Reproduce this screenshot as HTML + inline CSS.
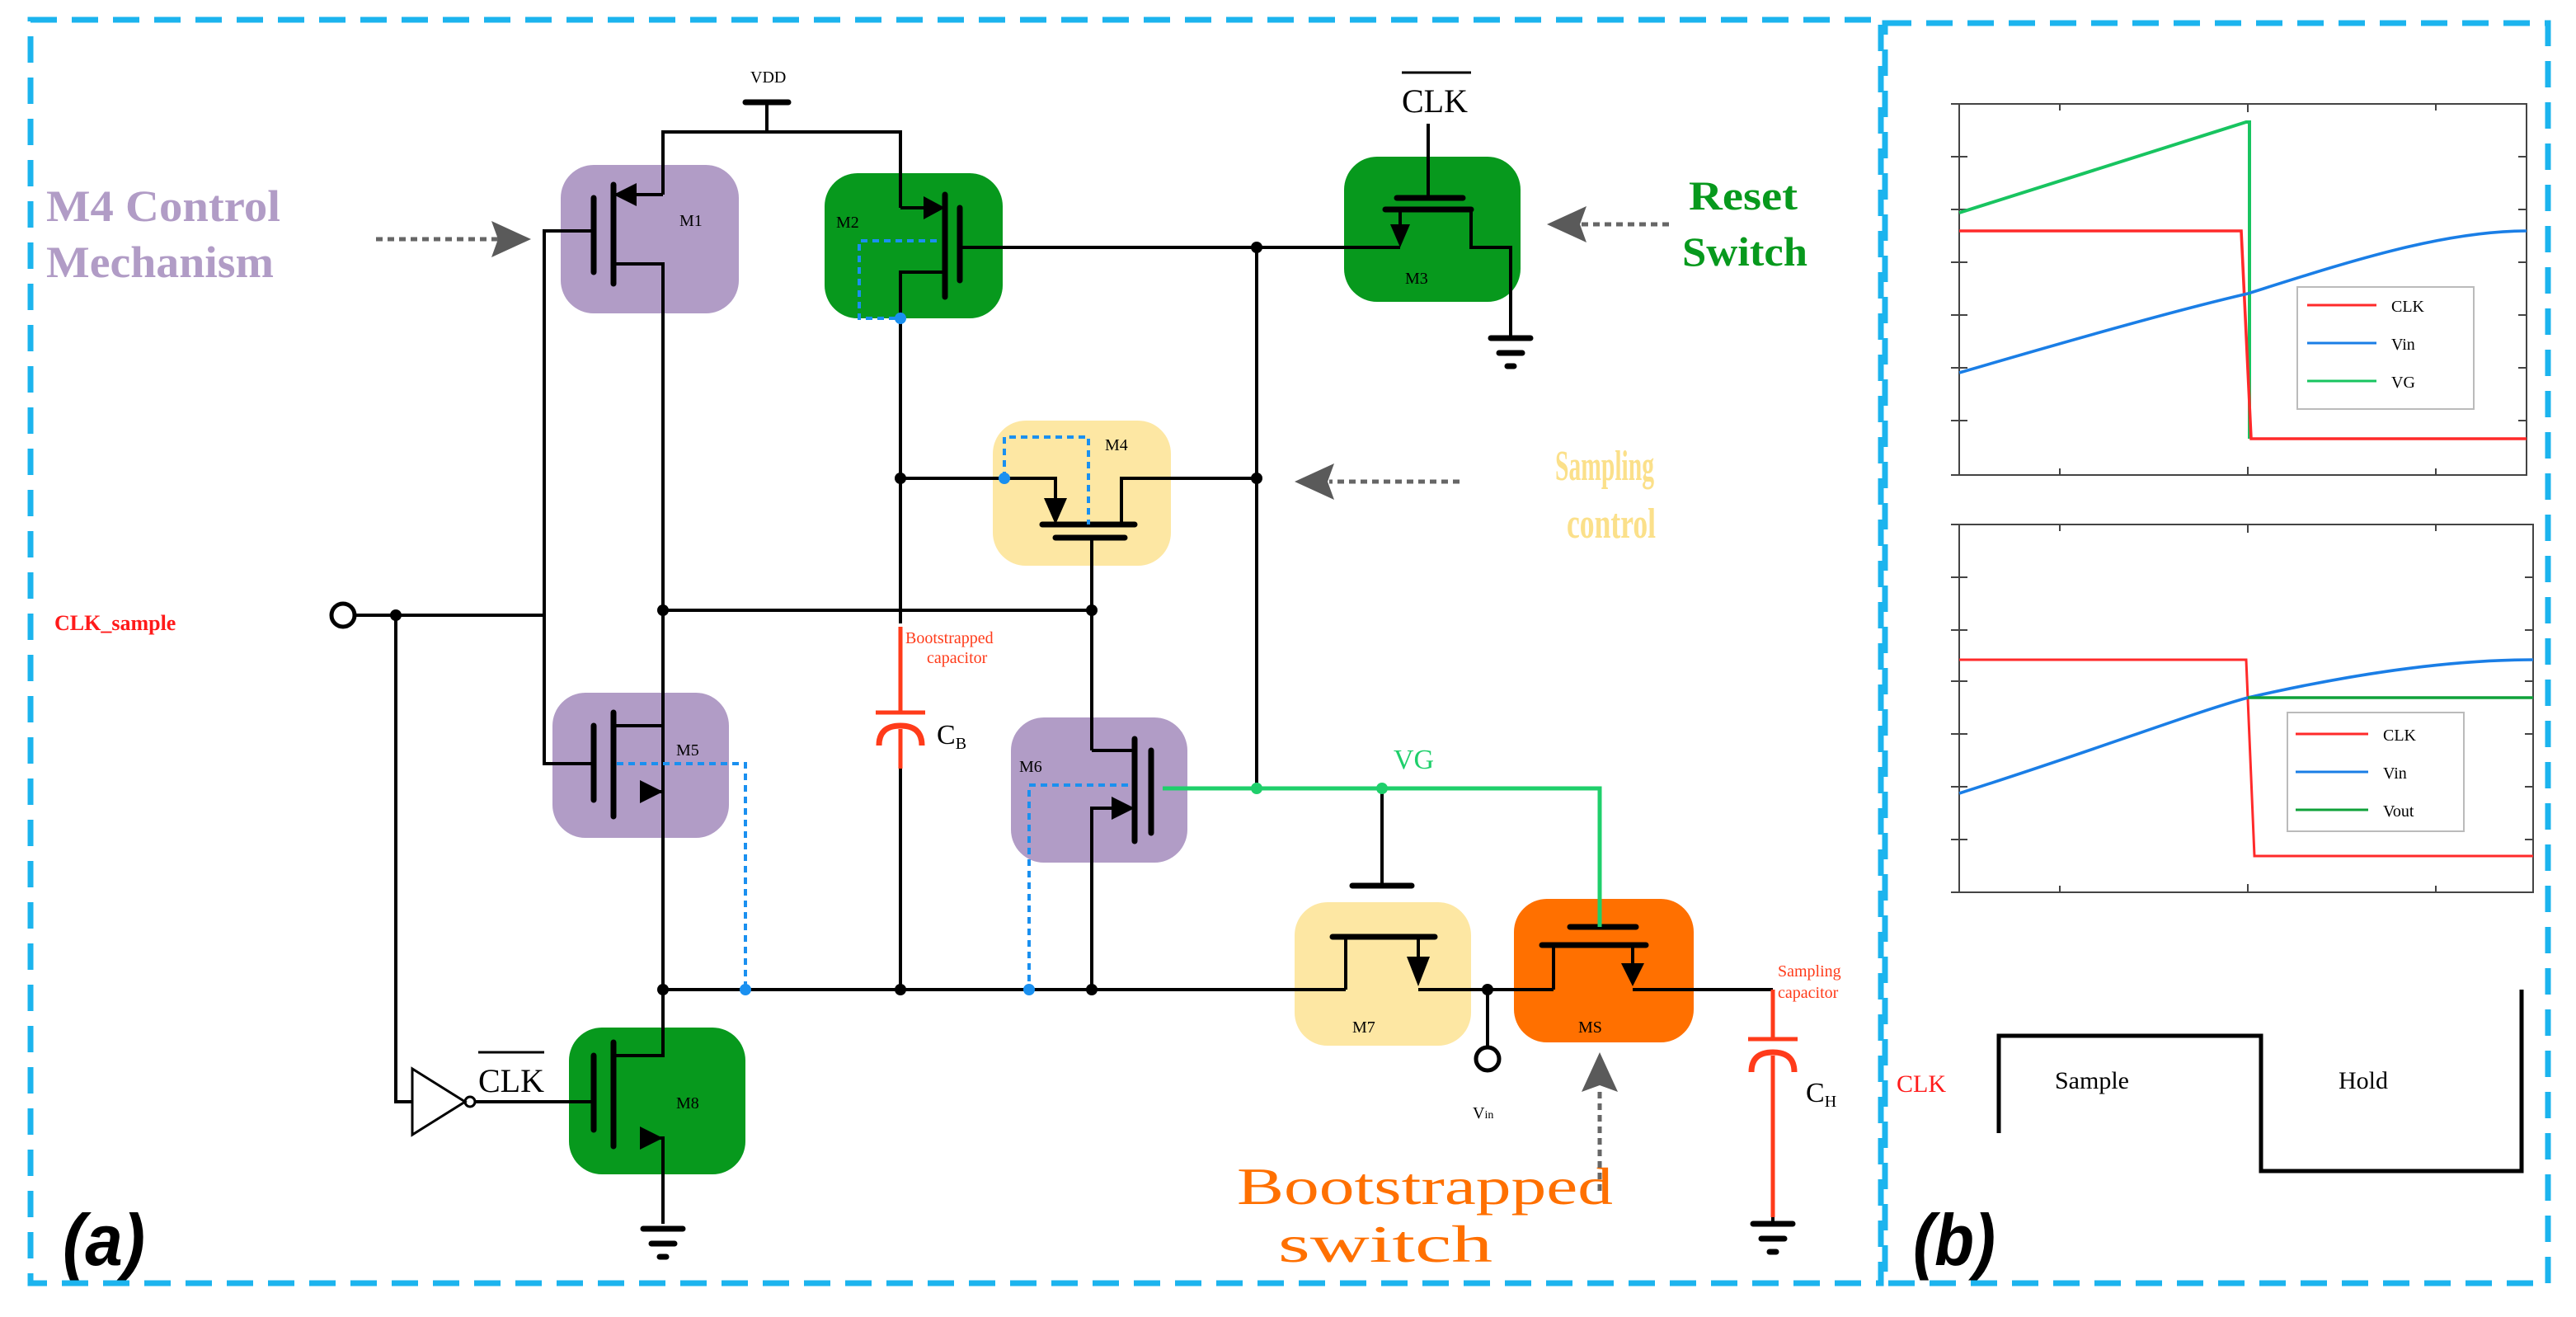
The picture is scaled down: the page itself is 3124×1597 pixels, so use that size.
<!DOCTYPE html>
<html><head><meta charset="utf-8"><style>html,body{margin:0;padding:0;background:#fff}svg{display:block}</style></head>
<body>
<svg width="3124" height="1597" viewBox="0 0 1562 798.5" xmlns="http://www.w3.org/2000/svg" font-family="Liberation Serif, serif">
<rect width="1562" height="798.5" fill="#fff"/>
<g fill="none" stroke="#1cb4ee" stroke-width="3.5" stroke-dasharray="16,9">
<rect x="18.5" y="12" width="1122" height="766"/>
<rect x="1143" y="14" width="402" height="764"/>
</g>
<g>
<rect x="340" y="100" width="108" height="90" rx="20" fill="#b19cc6"/>
<rect x="500" y="105" width="108" height="88" rx="20" fill="#07991d"/>
<rect x="815" y="95" width="107" height="88" rx="20" fill="#07991d"/>
<rect x="602" y="255" width="108" height="88" rx="20" fill="#fde7a3"/>
<rect x="335" y="420" width="107" height="88" rx="20" fill="#b19cc6"/>
<rect x="613" y="435" width="107" height="88" rx="20" fill="#b19cc6"/>
<rect x="785" y="547" width="107" height="87" rx="20" fill="#fde7a3"/>
<rect x="918" y="545" width="109" height="87" rx="20" fill="#ff7000"/>
<rect x="345" y="623" width="107" height="89" rx="20" fill="#07991d"/>
</g>
<g fill="none" stroke="#000" stroke-width="2">
<line x1="465" y1="62" x2="465" y2="80"/>
<polyline points="402,118 402,80 546,80 546,126"/>
<line x1="372" y1="118" x2="402" y2="118"/>
<polyline points="372,160 402,160 402,600"/>
<polyline points="360,140 330,140 330,463 360,463"/>
<line x1="216" y1="373" x2="330" y2="373"/>
<polyline points="240,373 240,668 250,668"/>
<line x1="546" y1="126" x2="560" y2="126"/>
<polyline points="573,165 546,165 546,378"/>
<line x1="582" y1="150" x2="849" y2="150"/>
<line x1="762" y1="150" x2="762" y2="478"/>
<line x1="866" y1="75" x2="866" y2="120"/>
<line x1="849" y1="127" x2="849" y2="140"/>
<polyline points="892,127 892,150 916,150 916,200"/>
<polyline points="546,290 640,290 640,302"/>
<polyline points="680,318 680,290 762,290"/>
<line x1="662" y1="326" x2="662" y2="455"/>
<line x1="402" y1="370" x2="662" y2="370"/>
<line x1="372" y1="440" x2="402" y2="440"/>
<line x1="390" y1="480" x2="402" y2="480"/>
<line x1="546" y1="466" x2="546" y2="600"/>
<line x1="662" y1="455" x2="688" y2="455"/>
<polyline points="674,490 662,490 662,600"/>
<line x1="402" y1="600" x2="816" y2="600"/>
<line x1="838" y1="478" x2="838" y2="537"/>
<line x1="816" y1="568" x2="816" y2="600"/>
<polyline points="860,568 860,580"/>
<line x1="860" y1="600" x2="942" y2="600"/>
<line x1="902" y1="600" x2="902" y2="634"/>
<line x1="942" y1="573" x2="942" y2="600"/>
<line x1="990" y1="573" x2="990" y2="585"/>
<line x1="990" y1="600" x2="1075" y2="600"/>
<line x1="288" y1="668" x2="360" y2="668"/>
<polyline points="372,640 402,640 402,600"/>
<polyline points="390,690 402,690 402,742"/>
<line x1="1075" y1="738" x2="1075" y2="742"/>
<polygon points="250,648 250,688 282,668" stroke-width="1.5"/>
<circle cx="285" cy="668" r="3" stroke-width="1.5"/>
<circle cx="208" cy="373" r="7" stroke-width="2.5"/>
<circle cx="902" cy="642" r="7" stroke-width="2.5"/>
</g>
<g stroke="#000" stroke-width="3.5" fill="none" stroke-linecap="round">
<line x1="452" y1="62" x2="478" y2="62"/>
<line x1="372" y1="112" x2="372" y2="172"/><line x1="360" y1="120" x2="360" y2="165"/>
<line x1="573" y1="118" x2="573" y2="180"/><line x1="582" y1="126" x2="582" y2="170"/>
<line x1="847" y1="120" x2="887" y2="120"/><line x1="840" y1="127" x2="892" y2="127"/>
<line x1="632" y1="318" x2="688" y2="318"/><line x1="640" y1="326" x2="682" y2="326"/>
<line x1="372" y1="432" x2="372" y2="495"/><line x1="360" y1="440" x2="360" y2="485"/>
<line x1="688" y1="448" x2="688" y2="510"/><line x1="698" y1="455" x2="698" y2="505"/>
<line x1="820" y1="537" x2="856" y2="537"/><line x1="808" y1="568" x2="870" y2="568"/>
<line x1="952" y1="562" x2="992" y2="562"/><line x1="935" y1="573" x2="998" y2="573"/>
<line x1="372" y1="632" x2="372" y2="695"/><line x1="360" y1="640" x2="360" y2="685"/>
<line x1="904" y1="205" x2="928" y2="205"/><line x1="909" y1="214" x2="923" y2="214"/><line x1="914" y1="222" x2="918" y2="222"/>
<line x1="390" y1="745" x2="414" y2="745"/><line x1="395" y1="754" x2="409" y2="754"/><line x1="400" y1="762" x2="404" y2="762"/>
<line x1="1063" y1="742" x2="1087" y2="742"/><line x1="1068" y1="751" x2="1082" y2="751"/><line x1="1073" y1="759" x2="1077" y2="759"/>
</g>
<line x1="916" y1="150" x2="916" y2="205" stroke="#000" stroke-width="2"/>
<g fill="#000">
<polygon points="372,118 386,111 386,125"/>
<polygon points="573,126 560,119 560,133"/>
<polygon points="849,150 843,136 855,136"/>
<polygon points="640,318 633,302 647,302"/>
<polygon points="402,480 388,473 388,487"/>
<polygon points="688,490 674,483 674,497"/>
<polygon points="860,598 853,580 867,580"/>
<polygon points="990,598 983,584 997,584"/>
<polygon points="402,690 388,683 388,697"/>
</g>
<g fill="#000">
<circle cx="762" cy="150" r="3.5"/><circle cx="546" cy="290" r="3.5"/><circle cx="762" cy="290" r="3.5"/>
<circle cx="402" cy="370" r="3.5"/><circle cx="662" cy="370" r="3.5"/><circle cx="240" cy="373" r="3.5"/>
<circle cx="402" cy="600" r="3.5"/><circle cx="546" cy="600" r="3.5"/><circle cx="662" cy="600" r="3.5"/><circle cx="902" cy="600" r="3.5"/>
</g>
<g stroke="#1fcf6b" stroke-width="2.5" fill="none">
<polyline points="705,478 970,478 970,562"/>
</g>
<circle cx="762" cy="478" r="3.5" fill="#1fcf6b"/><circle cx="838" cy="478" r="3.5" fill="#1fcf6b"/>
<text x="845" y="466" font-size="17" fill="#1fcf6b">VG</text>
<g stroke="#ff3b1a" stroke-width="2.5" fill="none">
<line x1="546" y1="380" x2="546" y2="432"/>
<line x1="531" y1="432" x2="561" y2="432"/>
<path d="M533,452 Q533,440 546,440 Q559,440 559,452" stroke-width="3.5"/>
<line x1="546" y1="442" x2="546" y2="466"/>
<line x1="1075" y1="600" x2="1075" y2="630"/>
<line x1="1060" y1="630" x2="1090" y2="630"/>
<path d="M1062,650 Q1062,638 1075,638 Q1088,638 1088,650" stroke-width="3.5"/>
<line x1="1075" y1="640" x2="1075" y2="738"/>
</g>
<g stroke="#1a90f0" stroke-width="2" fill="none" stroke-dasharray="4,3">
<polyline points="568,146 521,146 521,193 546,193"/>
<polyline points="609,290 609,265 660,265 660,318"/>
<polyline points="374,463 452,463 452,600"/>
<polyline points="684,476 624,476 624,600"/>
</g>
<g fill="#1a90f0"><circle cx="546" cy="193" r="3.5"/><circle cx="609" cy="290" r="3.5"/><circle cx="452" cy="600" r="3.5"/><circle cx="624" cy="600" r="3.5"/></g>
<g font-size="10" fill="#000">
<text x="455" y="50">VDD</text>
<text x="412" y="137">M1</text><text x="507" y="138">M2</text><text x="852" y="172">M3</text>
<text x="670" y="273">M4</text><text x="410" y="458">M5</text><text x="618" y="468">M6</text>
<text x="820" y="626">M7</text><text x="957" y="626">MS</text><text x="410" y="672">M8</text>
<text x="893" y="678">V<tspan font-size="7">in</tspan></text>
</g>
<text x="850" y="68" font-size="20">CLK</text><line x1="850" y1="44" x2="892" y2="44" stroke="#000" stroke-width="1.5"/>
<text x="290" y="662" font-size="20">CLK</text><line x1="290" y1="638" x2="330" y2="638" stroke="#000" stroke-width="1.5"/>
<text x="568" y="451" font-size="17">C<tspan font-size="10" dy="3">B</tspan></text>
<text x="1095" y="668" font-size="17">C<tspan font-size="10" dy="3">H</tspan></text>
<g font-size="10" fill="#ff3b1a">
<text x="549" y="390">Bootstrapped</text><text x="562" y="402">capacitor</text>
<text x="1078" y="592">Sampling</text><text x="1078" y="605">capacitor</text>
</g>
<g font-weight="bold">
<text x="28" y="134" fill="#b19cc6" font-size="27" textLength="142" lengthAdjust="spacingAndGlyphs">M4 Control</text>
<text x="28" y="168" fill="#b19cc6" font-size="27" textLength="138" lengthAdjust="spacingAndGlyphs">Mechanism</text>
<text x="1024" y="127" fill="#07991d" font-size="25" textLength="66" lengthAdjust="spacingAndGlyphs">Reset</text>
<text x="1020" y="161" fill="#07991d" font-size="25" textLength="76" lengthAdjust="spacingAndGlyphs">Switch</text>
<text x="943" y="291" fill="#fbe08a" font-size="26" textLength="60" lengthAdjust="spacingAndGlyphs">Sampling</text>
<text x="950" y="326" fill="#fbe08a" font-size="26" textLength="54" lengthAdjust="spacingAndGlyphs">control</text>
</g>
<g font-size="32" fill="#ff7000"><text x="750" y="730" textLength="228" lengthAdjust="spacingAndGlyphs">Bootstrapped</text><text x="775" y="765" textLength="130" lengthAdjust="spacingAndGlyphs">switch</text></g>
<text x="33" y="382" font-size="13" font-weight="bold" fill="#ff1a1a">CLK_sample</text>
<text x="38" y="767" font-size="44" font-weight="bold" font-style="italic" font-family="Liberation Sans, sans-serif" textLength="50" lengthAdjust="spacingAndGlyphs">(a)</text>
<text x="1160" y="767" font-size="44" font-weight="bold" font-style="italic" font-family="Liberation Sans, sans-serif" textLength="50" lengthAdjust="spacingAndGlyphs">(b)</text>
<g stroke="#666" stroke-width="2.5" stroke-dasharray="4,3" fill="none">
<line x1="228" y1="145" x2="302" y2="145"/>
<line x1="1012" y1="136" x2="958" y2="136"/>
<line x1="885" y1="292" x2="806" y2="292"/>
<line x1="970" y1="722" x2="970" y2="660"/>
</g>
<g fill="#5a5a5a">
<polygon points="322,145 298,134 302,145 298,156"/>
<polygon points="938,136 962,125 958,136 962,147"/>
<polygon points="785,292 809,281 805,292 809,303"/>
<polygon points="970,638 959,662 970,658 981,662"/>
</g>
<g font-family="Liberation Sans, sans-serif">
<g fill="none" stroke="#444" stroke-width="1">
<rect x="1188" y="63" width="344" height="225"/>
<rect x="1188" y="318" width="348" height="223"/>
</g>
<g stroke="#444" stroke-width="1">
<path d="M1183,63h10M1183,95h10M1183,127h10M1183,159h10M1183,191h10M1183,223h10M1183,255h10M1183,288h10 M1527,95h5M1527,127h5M1527,159h5M1527,191h5M1527,223h5M1527,255h5 M1249,63v4M1363,63v5M1477,63v4M1249,288v-4M1363,288v-5M1477,288v-4"/>
<path d="M1183,318h10M1183,350h10M1183,382h10M1183,413h10M1183,445h10M1183,477h10M1183,509h10M1183,541h10 M1531,350h5M1531,382h5M1531,413h5M1531,445h5M1531,477h5M1531,509h5 M1249,318v4M1363,318v5M1477,318v4M1249,541v-4M1363,541v-5M1477,541v-4"/>
</g>
<polyline points="1188,129 1362,74 1364,74 1364,266" fill="none" stroke="#18c460" stroke-width="2"/>
<polyline points="1188,140 1359,140 1365,266 1532,266" fill="none" stroke="#ff2a2a" stroke-width="1.8"/>
<path d="M1188,226 C1260,205 1320,188 1363,178 C1420,160 1480,140 1532,140" fill="none" stroke="#1a7ee6" stroke-width="1.8"/>
<rect x="1393" y="174" width="107" height="74" fill="#fff" stroke="#bbb"/>
<line x1="1399" y1="185" x2="1441" y2="185" stroke="#ff2a2a" stroke-width="1.5"/>
<line x1="1399" y1="208" x2="1441" y2="208" stroke="#1a7ee6" stroke-width="1.5"/>
<line x1="1399" y1="231" x2="1441" y2="231" stroke="#18c460" stroke-width="1.5"/>
<g font-size="10" font-family="Liberation Serif, serif"><text x="1450" y="189">CLK</text><text x="1450" y="212">Vin</text><text x="1450" y="235">VG</text></g>
<polyline points="1188,400 1362,400 1367,519 1536,519" fill="none" stroke="#ff2a2a" stroke-width="1.5"/>
<path d="M1188,481 C1270,455 1330,432 1363,423 C1420,410 1480,400 1536,400" fill="none" stroke="#1a7ee6" stroke-width="1.8"/>
<line x1="1363" y1="423" x2="1536" y2="423" stroke="#0fa13a" stroke-width="1.8"/>
<rect x="1387" y="432" width="107" height="72" fill="#fff" stroke="#bbb"/>
<line x1="1392" y1="445" x2="1436" y2="445" stroke="#ff2a2a" stroke-width="1.5"/>
<line x1="1392" y1="468" x2="1436" y2="468" stroke="#1a7ee6" stroke-width="1.5"/>
<line x1="1392" y1="491" x2="1436" y2="491" stroke="#0fa13a" stroke-width="1.5"/>
<g font-size="10" font-family="Liberation Serif, serif"><text x="1445" y="449">CLK</text><text x="1445" y="472">Vin</text><text x="1445" y="495">Vout</text></g>
</g>
<polyline points="1212,687 1212,628 1371,628 1371,710 1529,710 1529,600" fill="none" stroke="#000" stroke-width="2.5"/>
<text x="1150" y="662" font-size="15" fill="#ff1a1a">CLK</text>
<text x="1246" y="660" font-size="15">Sample</text>
<text x="1418" y="660" font-size="15">Hold</text>
</svg>
</body></html>
